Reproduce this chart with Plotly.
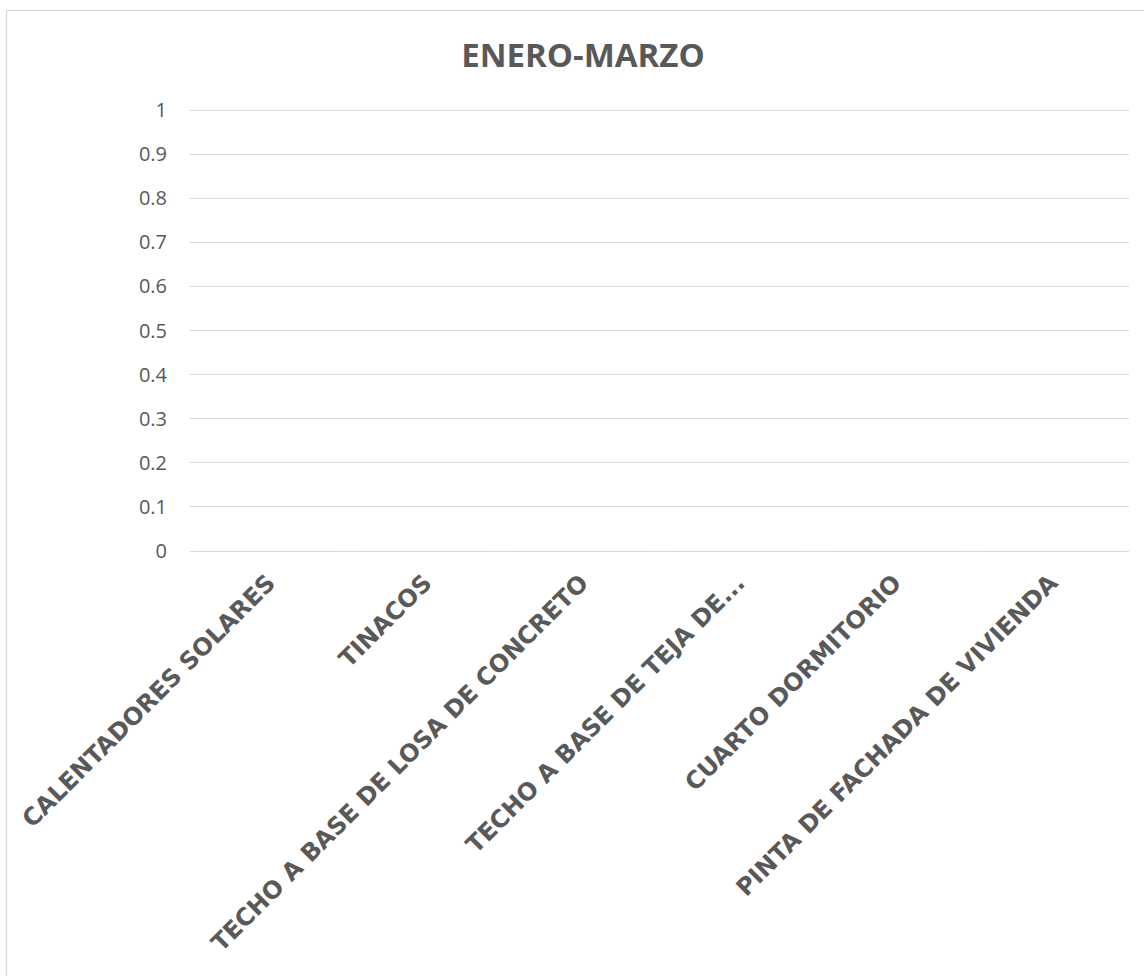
import plotly.graph_objects as go

categories = [
    "CALENTADORES SOLARES",
    "TINACOS",
    "TECHO A BASE DE LOSA DE CONCRETO",
    "TECHO A BASE DE TEJA DE...",
    "CUARTO DORMITORIO",
    "PINTA DE FACHADA DE VIVIENDA",
]
values = [0, 0, 0, 0, 0, 0]
y_ticks = [0, 0.1, 0.2, 0.3, 0.4, 0.5, 0.6, 0.7, 0.8, 0.9, 1]
title_text = "ENERO-MARZO"

W, H = 1144, 976
L, R, T, B = 190, 15, 110, 425
pw, ph = W - L - R, H - T - B

def px_x(p):
    return (p - L) / pw

def px_y(p):
    return 1 - (p - T) / ph

fig = go.Figure(go.Bar(x=categories, y=values, marker_color="#4472C4"))

fig.update_layout(
    width=W, height=H,
    margin=dict(l=L, r=R, t=T - 1, b=B),
    paper_bgcolor="white", plot_bgcolor="white",
    showlegend=False,
    title=dict(text="<b>" + title_text + "</b>", xref="container", x=583 / W, xanchor="center",
               yref="container", y=1 - 55 / H, yanchor="middle",
               font=dict(family="Open Sans", size=33, color="#595959")),
    xaxis=dict(
        type="category", tickangle=-45, showgrid=False, showline=False,
        ticks="", ticklabelstandoff=12,
        tickfont=dict(family="DejaVu Sans", size=24, color="#595959", weight="bold"),
    ),
    yaxis=dict(
        range=[0, 1.0025], tickvals=y_ticks, showgrid=True, gridcolor="#d9d9d9", gridwidth=1.3,
        zeroline=True, zerolinecolor="#d9d9d9", zerolinewidth=1.3, showline=False,
        ticks="", ticklabelstandoff=22,
        tickfont=dict(family="Open Sans", size=20, color="#595959"),
    ),
    shapes=[dict(type="rect", xref="paper", yref="paper",
                 x0=px_x(6.5), x1=px_x(1160), y0=px_y(11.5), y1=px_y(1000),
                 line=dict(color="#d9d9d9", width=1.3), fillcolor="rgba(0,0,0,0)", layer="below")],
)

fig.write_html("out.html", config={"displayModeBar": False},
               post_script="document.body.style.margin='0px';")
